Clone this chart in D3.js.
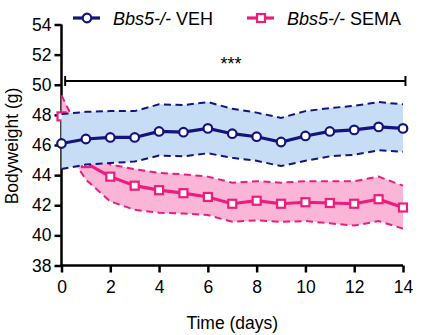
<!DOCTYPE html>
<html>
<head>
<meta charset="utf-8">
<script src="https://cdn.jsdelivr.net/npm/d3@7"></script>
<style>
  body { margin: 0; background: #fff; }
  text { font-family: "Liberation Sans", Arial, sans-serif; fill: #000; }
</style>
</head>
<body>
<svg id="chart" width="421" height="335"></svg>
<script>
// data
var days = [0, 1, 2, 3, 4, 5, 6, 7, 8, 9, 10, 11, 12, 13, 14];

var vehMean  = [46.1, 46.4, 46.5, 46.5, 46.9, 46.85, 47.1, 46.75, 46.55, 46.2, 46.6, 46.9, 47.0, 47.2, 47.1];
var vehUpper = [48.05, 48.2, 48.25, 48.25, 48.7, 48.65, 48.85, 48.4, 48.15, 47.8, 48.25, 48.45, 48.6, 48.85, 48.7];
var vehLower = [44.4, 44.7, 44.8, 44.9, 45.3, 45.25, 45.45, 45.15, 44.95, 44.6, 44.95, 45.25, 45.35, 45.65, 45.55];

var semaMean  = [47.9, 44.8, 43.9, 43.3, 43.0, 42.8, 42.55, 42.1, 42.3, 42.1, 42.2, 42.15, 42.1, 42.4, 41.85];
var semaUpper = [49.3, 46.0, 44.7, 44.4, 44.15, 44.05, 43.9, 43.5, 43.6, 43.5, 43.6, 43.6, 43.6, 43.9, 43.3];
var semaLower = [46.2, 43.7, 42.25, 41.7, 41.5, 41.45, 41.35, 40.9, 41.0, 40.9, 40.95, 40.8, 40.65, 40.95, 40.45];

var yTicks = [38, 40, 42, 44, 46, 48, 50, 52, 54];
var xTicks = [0, 2, 4, 6, 8, 10, 12, 14];

var navy = "#14147f", blueFill = "#c7dcf5";
var pink = "#ee1c7e", pinkFill = "#fbb6d7";

var svg = d3.select("#chart");

var x = d3.scaleLinear().domain([0, 14]).range([61.5, 403]);
var y = d3.scaleLinear().domain([38, 54]).range([265.5, 24.5]);

// axes
var yAxis = svg.append("g")
    .attr("transform", "translate(61.5,0)")
    .call(d3.axisLeft(y).tickValues(yTicks).tickSize(7).tickPadding(3).tickSizeOuter(0));
var xAxis = svg.append("g")
    .attr("transform", "translate(0,265.5)")
    .call(d3.axisBottom(x).tickValues(xTicks).tickSize(7).tickPadding(8).tickSizeOuter(0));

[yAxis, xAxis].forEach(function(a) {
    a.selectAll("path.domain").attr("stroke", "#000").attr("stroke-width", 2.5);
    a.selectAll(".tick line").attr("stroke", "#000").attr("stroke-width", 2.5);
    a.selectAll(".tick text").style("font-size", "17.5px").style("font-family", "Liberation Sans, Arial, sans-serif").attr("fill", "#000");
});
// extend y domain line to meet x axis
yAxis.select("path.domain").attr("d", "M0," + y(54) + "V" + (y(38) + 1.25));
xAxis.select("path.domain").attr("d", "M" + (x(0) - 1.25) + ",0H" + x(14));

svg.append("text")
    .attr("transform", "translate(18,146) rotate(-90)")
    .attr("text-anchor", "middle")
    .style("font-size", "17.5px")
    .text("Bodyweight (g)");

svg.append("text")
    .attr("x", x(7)).attr("y", 329)
    .attr("text-anchor", "middle")
    .style("font-size", "17.5px")
    .text("Time (days)");

function drawGroup(mean, upper, lower, color, fill, marker) {
    var g = svg.append("g");
    var area = d3.area()
        .x(function(d, i) { return x(days[i]); })
        .y0(function(d, i) { return y(lower[i]); })
        .y1(function(d, i) { return y(upper[i]); });
    var line = d3.line()
        .x(function(d, i) { return x(days[i]); })
        .y(function(d) { return y(d); });

    g.append("path").datum(mean).attr("d", area).attr("fill", fill);
    [upper, lower].forEach(function(b) {
        g.append("path").datum(b).attr("d", line)
            .attr("fill", "none").attr("stroke", color)
            .attr("stroke-width", 2).attr("stroke-dasharray", "7,4.5");
    });
    g.append("path").datum(mean).attr("d", line)
        .attr("fill", "none").attr("stroke", color).attr("stroke-width", 3.2);

    if (marker == "circle") {
        g.selectAll("circle").data(mean).enter().append("circle")
            .attr("cx", function(d, i) { return x(days[i]); })
            .attr("cy", function(d) { return y(d); })
            .attr("r", 4.3)
            .attr("fill", "#fff").attr("stroke", color).attr("stroke-width", 2.2);
    } else {
        g.selectAll("rect").data(mean).enter().append("rect")
            .attr("x", function(d, i) { return x(days[i]) - 4; })
            .attr("y", function(d) { return y(d) - 4; })
            .attr("width", 8).attr("height", 8)
            .attr("fill", "#fff").attr("stroke", color).attr("stroke-width", 2.2);
    }
}

drawGroup(semaMean, semaUpper, semaLower, pink, pinkFill, "square");
drawGroup(vehMean, vehUpper, vehLower, navy, blueFill, "circle");

// significance bar
var sig = svg.append("g").attr("stroke", "#000").attr("stroke-width", 2);
var bx0 = x(0.15), bx1 = x(14.1), by = 81;
sig.append("line").attr("x1", bx0).attr("x2", bx1).attr("y1", by).attr("y2", by);
sig.append("line").attr("x1", bx0).attr("x2", bx0).attr("y1", by - 5).attr("y2", by + 5);
sig.append("line").attr("x1", bx1).attr("x2", bx1).attr("y1", by - 5).attr("y2", by + 5);
svg.append("text")
    .attr("x", 231).attr("y", 70)
    .attr("text-anchor", "middle")
    .style("font-size", "18px")
    .text("***");

// legend
var legend = [
    { name: " VEH", color: navy, marker: "circle", x0: 73 },
    { name: " SEMA", color: pink, marker: "square", x0: 247 }
];
legend.forEach(function(l) {
    var g = svg.append("g").attr("transform", "translate(" + l.x0 + ",18)");
    g.append("line").attr("x1", 0).attr("x2", 27).attr("y1", 0).attr("y2", 0)
        .attr("stroke", l.color).attr("stroke-width", 3.2);
    if (l.marker == "circle") {
        g.append("circle").attr("cx", 14).attr("cy", 0).attr("r", 4.3)
            .attr("fill", "#fff").attr("stroke", l.color).attr("stroke-width", 2.2);
    } else {
        g.append("rect").attr("x", 10).attr("y", -4).attr("width", 8).attr("height", 8)
            .attr("fill", "#fff").attr("stroke", l.color).attr("stroke-width", 2.2);
    }
    var t = g.append("text").attr("x", 40).attr("y", 6.5).style("font-size", "18px");
    t.append("tspan").style("font-style", "italic").text("Bbs5-/-");
    t.append("tspan").text(l.name);
});
</script>
</body>
</html>
